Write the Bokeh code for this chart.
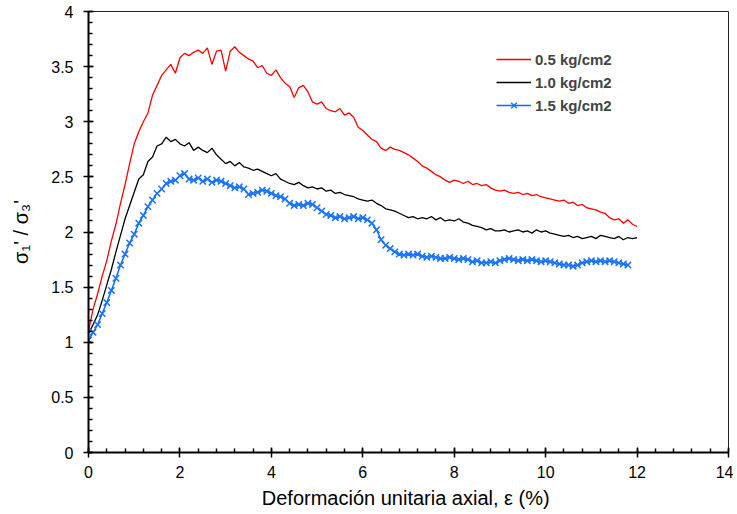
import numpy as np
from bokeh.plotting import figure
from bokeh.models import FixedTicker, Legend, LegendItem
from bokeh.embed import file_html
from bokeh.resources import INLINE

# strain (%) sampled every 0.1
strain = [round(i * 0.1, 1) for i in range(121)]
strain_b = [round(i * 0.1, 1) for i in range(119)]

red_05 = [1.10, 1.30, 1.44, 1.60, 1.74, 1.92, 2.07, 2.26, 2.43, 2.62,
          2.80, 2.91, 3.00, 3.08, 3.24, 3.33, 3.42, 3.47, 3.52, 3.44,
          3.58, 3.62, 3.60, 3.63, 3.65, 3.62, 3.67, 3.52, 3.64, 3.65,
          3.46, 3.64, 3.68, 3.63, 3.60, 3.57, 3.55, 3.49, 3.51, 3.44,
          3.42, 3.47, 3.40, 3.35, 3.32, 3.22, 3.31, 3.33, 3.27, 3.18,
          3.16, 3.18, 3.12, 3.10, 3.09, 3.12, 3.06, 3.08, 3.04, 2.95,
          2.92, 2.88, 2.84, 2.82, 2.76, 2.74, 2.77, 2.75, 2.74, 2.72,
          2.70, 2.67, 2.64, 2.60, 2.58, 2.55, 2.52, 2.50, 2.47, 2.45,
          2.47, 2.46, 2.44, 2.46, 2.43, 2.44, 2.42, 2.43, 2.40, 2.38,
          2.37, 2.38, 2.36, 2.35, 2.36, 2.34, 2.35, 2.33, 2.34, 2.32,
          2.31, 2.30, 2.29, 2.28, 2.29, 2.26, 2.27, 2.24, 2.25, 2.22,
          2.21, 2.20, 2.18, 2.17, 2.13, 2.11, 2.12, 2.08, 2.11, 2.07,
          2.05]

black_10 = [1.08, 1.16, 1.25, 1.38, 1.52, 1.66, 1.82, 1.97, 2.12, 2.24,
            2.36, 2.48, 2.52, 2.64, 2.68, 2.78, 2.80, 2.86, 2.82, 2.84,
            2.80, 2.78, 2.81, 2.74, 2.77, 2.74, 2.72, 2.76, 2.70, 2.66,
            2.62, 2.64, 2.60, 2.63, 2.59, 2.58, 2.56, 2.57, 2.55, 2.53,
            2.51, 2.53, 2.48, 2.46, 2.44, 2.43, 2.45, 2.42, 2.40, 2.41,
            2.39, 2.40, 2.37, 2.38, 2.35, 2.36, 2.34, 2.33, 2.32, 2.30,
            2.29, 2.28, 2.29, 2.26, 2.24, 2.21, 2.20, 2.19, 2.17, 2.15,
            2.13, 2.14, 2.12, 2.13, 2.12, 2.14, 2.11, 2.13, 2.10, 2.11,
            2.10, 2.12, 2.09, 2.08, 2.06, 2.05, 2.04, 2.02, 2.03, 2.01,
            2.01, 2.02, 2.00, 2.01, 2.02, 2.00, 2.01, 1.99, 2.02, 2.00,
            2.01, 1.99, 1.98, 1.97, 1.96, 1.97, 1.95, 1.96, 1.94, 1.95,
            1.96, 1.94, 1.97, 1.96, 1.95, 1.94, 1.96, 1.93, 1.95, 1.94,
            1.95]

blue_15 = [1.02, 1.09, 1.16, 1.26, 1.36, 1.47, 1.58, 1.70, 1.80, 1.90,
           1.98, 2.08, 2.15, 2.23, 2.29, 2.35, 2.39, 2.44, 2.46, 2.47,
           2.51, 2.53, 2.48, 2.47, 2.49, 2.46, 2.48, 2.45, 2.47, 2.46,
           2.44, 2.42, 2.40, 2.41, 2.39, 2.34, 2.35, 2.36, 2.38, 2.37,
           2.35, 2.33, 2.32, 2.30, 2.26, 2.24, 2.25, 2.24, 2.26, 2.25,
           2.22, 2.19, 2.16, 2.15, 2.13, 2.14, 2.12, 2.13, 2.14, 2.12,
           2.13, 2.11, 2.08, 2.02, 1.93, 1.88, 1.85, 1.82, 1.80, 1.79,
           1.80, 1.79, 1.80, 1.78, 1.77, 1.78, 1.77, 1.76, 1.76, 1.77,
           1.76, 1.75, 1.76, 1.75, 1.73, 1.74, 1.72, 1.72, 1.73, 1.72,
           1.74, 1.75, 1.76, 1.75, 1.74, 1.75, 1.74, 1.75, 1.74, 1.73,
           1.74, 1.73, 1.72, 1.71, 1.70, 1.70, 1.69, 1.70, 1.72, 1.73,
           1.74, 1.73, 1.74, 1.73, 1.74, 1.73, 1.72, 1.71, 1.70]

series_labels = ["0.5 kg/cm2", "1.0 kg/cm2", "1.5 kg/cm2"]
x_ticks = [0, 2, 4, 6, 8, 10, 12, 14]
y_ticks = [0, 0.5, 1, 1.5, 2, 2.5, 3, 3.5, 4]
y_tick_labels = ["0", "0.5", "1", "1.5", "2", "2.5", "3", "3.5", "4"]

FONT = "Liberation Sans"

p = figure(width=733, height=512, x_range=(0, 14), y_range=(0, 4),
           output_backend="svg", toolbar_location=None,
           min_border_left=88, min_border_right=5, min_border_top=11,
           min_border_bottom=60)
p.grid.visible = False
p.outline_line_color = "#222222"
p.outline_line_width = 1
p.background_fill_color = "white"
p.border_fill_color = "white"

r1 = p.line(strain, red_05, line_color="#ff0000", line_width=1.3)
r2 = p.line(strain, black_10, line_color="#000000", line_width=1.3)
r3 = p.line(strain_b, blue_15, line_color="#0a6cff", line_width=1.5)
r3m = p.scatter(strain_b, blue_15, marker="x", size=9, line_color="#1a74ff",
                line_width=1.5)

for ax in (p.xaxis[0], p.yaxis[0]):
    ax.axis_line_width = 2
    ax.axis_line_color = "black"
    ax.major_tick_line_width = 1.5
    ax.minor_tick_line_width = 1.5
    ax.major_tick_in = 5
    ax.major_tick_out = 5
    ax.minor_tick_in = 4
    ax.minor_tick_out = 0
    ax.major_label_text_font = FONT
    ax.major_label_text_font_size = "16px"
    ax.major_label_text_color = "black"
    ax.axis_label_text_font = FONT
    ax.axis_label_text_font_size = "20px"
    ax.axis_label_text_font_style = "normal"
    ax.axis_label_text_color = "black"

p.xaxis[0].ticker = FixedTicker(ticks=x_ticks,
                                minor_ticks=[round(i * 0.4, 1) for i in range(36)])
p.yaxis[0].ticker = FixedTicker(ticks=y_ticks,
                                minor_ticks=[round(i * 0.1, 1) for i in range(41)])
p.yaxis[0].major_label_overrides = {t: l for t, l in zip(y_ticks, y_tick_labels)}
p.xaxis[0].major_label_standoff = 8
p.yaxis[0].major_label_standoff = 10
p.xaxis[0].axis_label = "Deformación unitaria axial, ε  (%)"
p.xaxis[0].axis_label_standoff = 6
p.yaxis[0].axis_label = "σ₁' / σ₃'"
p.yaxis[0].axis_label_standoff = 16

legend = Legend(items=[LegendItem(label=series_labels[0], renderers=[r1]),
                       LegendItem(label=series_labels[1], renderers=[r2]),
                       LegendItem(label=series_labels[2], renderers=[r3, r3m])],
                location=(408, 337))
legend.border_line_color = None
legend.background_fill_alpha = 0
legend.label_text_font = FONT
legend.label_text_font_style = "bold"
legend.label_text_font_size = "15px"
legend.glyph_width = 35
legend.glyph_height = 20
legend.label_height = 20
legend.spacing = 3
legend.padding = 0
legend.margin = 0
legend.label_standoff = 4
p.add_layout(legend)

open("out.html", "w").write(file_html(p, INLINE))
